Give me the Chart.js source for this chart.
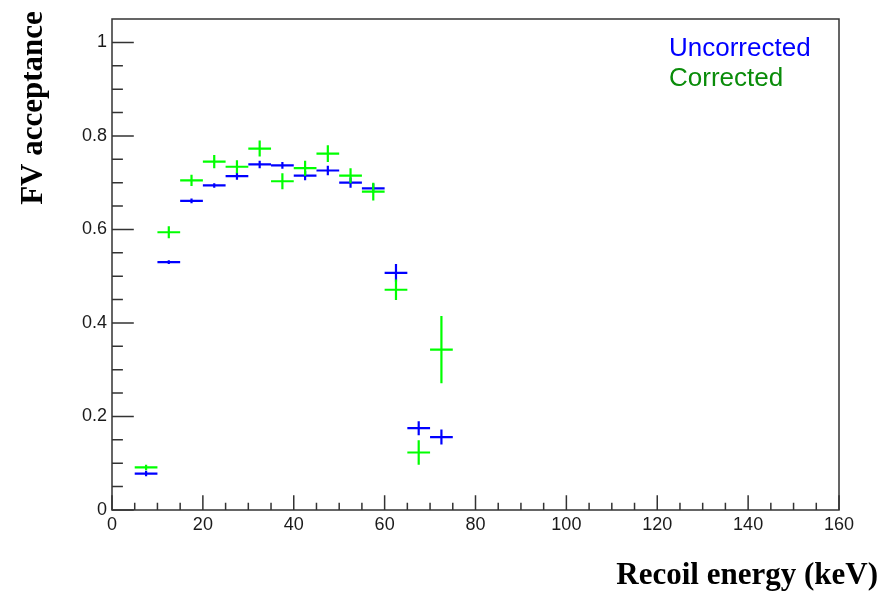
<!DOCTYPE html>
<html>
<head>
<meta charset="utf-8">
<script src="https://cdn.jsdelivr.net/npm/chart.js@4/dist/chart.umd.min.js"></script>
<style>
  html, body { margin: 0; padding: 0; background: #fff; }
  #wrap { width: 894px; height: 592px; position: relative; }
</style>
</head>
<body>
<div id="wrap"><canvas id="c" width="894" height="592"></canvas></div>
<script>
// Recoil-energy bins (keV): centres and half width
const binCenters = [7.5, 12.5, 17.5, 22.5, 27.5, 32.5, 37.5, 42.5, 47.5, 52.5, 57.5, 62.5, 67.5, 72.5];
const binHalfWidth = 2.5;

// Fiducial-volume acceptance per bin
const uncorrected    = [0.078, 0.530, 0.661, 0.694, 0.714, 0.739, 0.737, 0.715, 0.726, 0.700, 0.688, 0.507, 0.175, 0.156];
const uncorrectedErr = [0.006, 0.004, 0.005, 0.005, 0.008, 0.008, 0.007, 0.010, 0.010, 0.011, 0.010, 0.019, 0.015, 0.016];
const corrected      = [0.091, 0.594, 0.705, 0.745, 0.734, 0.773, 0.703, 0.731, 0.762, 0.715, 0.681, 0.471, 0.123, 0.343];
const correctedErr   = [0.006, 0.013, 0.012, 0.014, 0.014, 0.017, 0.017, 0.016, 0.018, 0.016, 0.019, 0.022, 0.026, 0.072];

// Axis ranges and tick labels
const xRange = [0, 160];
const yRange = [0, 1.05];
const xMajorTicks = [0, 20, 40, 60, 80, 100, 120, 140, 160];
const xTickLabels = ['0', '20', '40', '60', '80', '100', '120', '140', '160'];
const xMinorStep = 5;
const yMajorTicks = [0, 0.2, 0.4, 0.6, 0.8, 1];
const yTickLabels = ['0', '0.2', '0.4', '0.6', '0.8', '1'];
const yMinorStep = 0.05;

const seriesNames = ['Uncorrected', 'Corrected'];
const xTitle = 'Recoil energy (keV)';
const yTitle = 'FV acceptance';

const BLUE = '#0000ff';
const GREEN = '#00ff00';
const GREEN_TEXT = '#0a8c0a';
const AXIS = '#333333';

function points(vals) {
  return binCenters.map((x, i) => ({ x: x, y: vals[i] }));
}

// Horizontal bin-width bar + vertical error bar for every point
const errorBars = {
  id: 'errorBars',
  afterDatasetsDraw(chart) {
    const ctx = chart.ctx;
    const xs = chart.scales.x, ys = chart.scales.y;
    const area = chart.chartArea;
    ctx.save();
    ctx.beginPath();
    ctx.rect(area.left, area.top, area.right - area.left, area.bottom - area.top);
    ctx.clip();
    chart.data.datasets.forEach(ds => {
      ctx.strokeStyle = ds.borderColor;
      ctx.lineWidth = 2.2;
      ctx.lineCap = 'butt';
      ds.data.forEach((p, i) => {
        const x0 = xs.getPixelForValue(p.x - ds.xHalf);
        const x1 = xs.getPixelForValue(p.x + ds.xHalf);
        const xc = xs.getPixelForValue(p.x);
        const yc = ys.getPixelForValue(p.y);
        const ylo = ys.getPixelForValue(p.y - ds.yErr[i]);
        const yhi = ys.getPixelForValue(p.y + ds.yErr[i]);
        ctx.beginPath();
        ctx.moveTo(x0, yc); ctx.lineTo(x1, yc);
        ctx.moveTo(xc, ylo); ctx.lineTo(xc, yhi);
        ctx.stroke();
      });
    });
    ctx.restore();
  }
};

// Frame, inward ticks, axis titles and legend text
const frameDecor = {
  id: 'frameDecor',
  afterDraw(chart) {
    const ctx = chart.ctx;
    const a = chart.chartArea;
    const xs = chart.scales.x, ys = chart.scales.y;
    const w = a.right - a.left, h = a.bottom - a.top;
    ctx.save();
    ctx.strokeStyle = AXIS;
    ctx.lineWidth = 1.5;
    ctx.strokeRect(a.left, a.top, w, h);

    // x ticks (inward from the bottom edge)
    const xMaj = 0.03 * h, xMin = xMaj / 2;
    ctx.beginPath();
    for (let v = xRange[0]; v <= xRange[1] + 1e-9; v += xMinorStep) {
      const px = xs.getPixelForValue(v);
      const major = xMajorTicks.some(t => Math.abs(t - v) < 1e-9);
      ctx.moveTo(px, a.bottom);
      ctx.lineTo(px, a.bottom - (major ? xMaj : xMin));
    }
    // y ticks (inward from the left edge)
    const yMaj = 0.03 * w, yMin = yMaj / 2;
    for (let k = 0; k * yMinorStep <= yRange[1] - 1e-9; k++) {
      const v = k * yMinorStep;
      const py = ys.getPixelForValue(v);
      const major = yMajorTicks.some(t => Math.abs(t - v) < 1e-9);
      ctx.moveTo(a.left, py);
      ctx.lineTo(a.left + (major ? yMaj : yMin), py);
    }
    ctx.stroke();

    // axis titles
    ctx.fillStyle = '#000';
    ctx.font = 'bold 31px "Liberation Serif"';
    ctx.textAlign = 'right';
    ctx.textBaseline = 'alphabetic';
    ctx.fillText(xTitle, 878, 584);

    ctx.save();
    ctx.translate(41.5, 108);
    ctx.rotate(-Math.PI / 2);
    ctx.textAlign = 'center';
    ctx.fillText(yTitle, 0, 0);
    ctx.restore();

    // legend
    ctx.font = '26px "Liberation Sans"';
    ctx.textAlign = 'left';
    ctx.fillStyle = BLUE;
    ctx.fillText(seriesNames[0], 669, 56);
    ctx.fillStyle = GREEN_TEXT;
    ctx.fillText(seriesNames[1], 669, 86);
    ctx.restore();
  }
};

const tickFont = { family: '"Liberation Sans"', size: 18 };

new Chart(document.getElementById('c'), {
  type: 'scatter',
  data: {
    datasets: [
      { label: seriesNames[0], data: points(uncorrected), yErr: uncorrectedErr, xHalf: binHalfWidth,
        borderColor: BLUE, backgroundColor: BLUE, pointRadius: 0, showLine: false },
      { label: seriesNames[1], data: points(corrected), yErr: correctedErr, xHalf: binHalfWidth,
        borderColor: GREEN, backgroundColor: GREEN, pointRadius: 0, showLine: false }
    ]
  },
  options: {
    responsive: false,
    animation: false,
    devicePixelRatio: 1,
    layout: { padding: { left: 0, top: 19, right: 55, bottom: 0 } },
    plugins: { legend: { display: false }, tooltip: { enabled: false } },
    scales: {
      x: {
        type: 'linear', min: xRange[0], max: xRange[1],
        grid: { display: false, drawTicks: false },
        border: { display: false },
        afterFit(s) { s.height = 82; },
        afterBuildTicks(s) { s.ticks = xMajorTicks.map(v => ({ value: v })); },
        ticks: {
          font: tickFont, color: '#1a1a1a', padding: 4, maxRotation: 0, autoSkip: false,
          callback: (v) => { const i = xMajorTicks.indexOf(v); return i >= 0 ? xTickLabels[i] : ''; }
        }
      },
      y: {
        type: 'linear', min: yRange[0], max: yRange[1],
        grid: { display: false, drawTicks: false },
        border: { display: false },
        afterFit(s) { s.width = 112; },
        afterBuildTicks(s) { s.ticks = yMajorTicks.map(v => ({ value: v })); },
        ticks: {
          font: tickFont, color: '#1a1a1a', padding: 5, autoSkip: false,
          callback: (v) => { const i = yMajorTicks.findIndex(t => Math.abs(t - v) < 1e-9); return i >= 0 ? yTickLabels[i] : ''; }
        }
      }
    }
  },
  plugins: [errorBars, frameDecor]
});
</script>
</body>
</html>
